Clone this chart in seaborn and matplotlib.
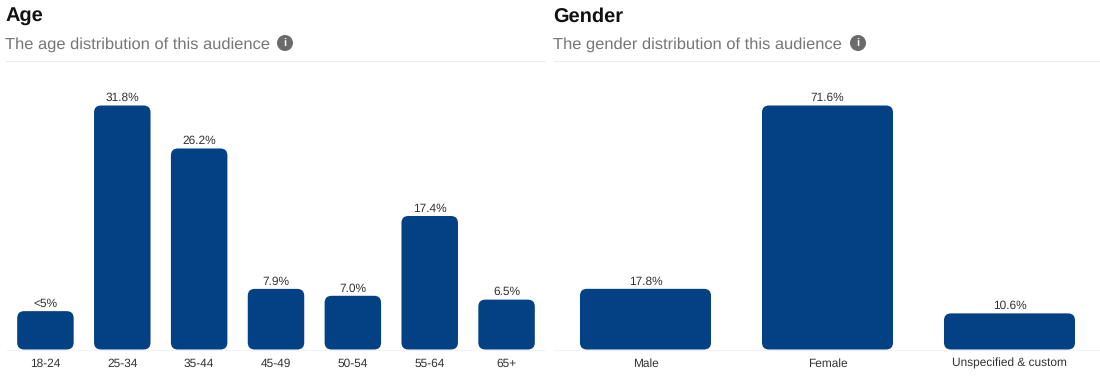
import matplotlib
matplotlib.use("Agg")
import matplotlib.pyplot as plt
import seaborn as sns
from matplotlib.patches import Circle, FancyBboxPatch

AGE_GROUPS = ["18-24", "25-34", "35-44", "45-49", "50-54", "55-64", "65+"]
AGE_VALUES = [5.0, 31.8, 26.2, 7.9, 7.0, 17.4, 6.5]
AGE_LABELS = ["<5%", "31.8%", "26.2%", "7.9%", "7.0%", "17.4%", "6.5%"]

GENDERS = ["Male", "Female", "Unspecified & custom"]
GENDER_VALUES = [17.8, 71.6, 10.6]
GENDER_LABELS = ["17.8%", "71.6%", "10.6%"]

WIDTH = 1100
HEIGHT = 390
BASELINE = 349.5
BAR_TOP = 105.5
AXES_TOP = 85
BAR_COLOR = "#034184"
RULE_COLOR = "#ececec"
RADIUS_PX = 7


def round_bars(ax, px_per_x, px_per_y):
    # seaborn has no rounded bars, so swap each one for a rounded patch of the same size
    for bar in list(ax.patches):
        rounded = FancyBboxPatch(
            (bar.get_x(), bar.get_y()),
            bar.get_width(),
            bar.get_height(),
            boxstyle=f"round,pad=0,rounding_size={RADIUS_PX / px_per_x}",
            mutation_aspect=px_per_x / px_per_y,
            facecolor=BAR_COLOR,
            edgecolor="none",
            zorder=3,
        )
        ax.add_patch(rounded)
        bar.set_visible(False)


def draw_panel(fig, left, right, categories, values, labels, bar_width):
    ax = fig.add_axes([
        left / WIDTH,
        1 - BASELINE / HEIGHT,
        (right - left) / WIDTH,
        (BASELINE - AXES_TOP) / HEIGHT,
    ])
    sns.barplot(x=categories, y=values, color=BAR_COLOR, saturation=1, width=bar_width, ax=ax)

    px_per_y = (BASELINE - BAR_TOP) / max(values)
    px_per_x = (right - left) / len(categories)
    ax.set_ylim(0, (BASELINE - AXES_TOP) / px_per_y)
    ax.set_xlim(-0.5, len(categories) - 0.5)

    ax.bar_label(ax.containers[0], labels=labels, padding=1.3, fontsize=8.6, color="#333333")
    round_bars(ax, px_per_x, px_per_y)

    ax.set_xlabel("")
    ax.set_ylabel("")
    ax.set_yticks([])
    ax.tick_params(axis="x", length=0, pad=6, labelsize=8.6, labelcolor="#333333")
    sns.despine(ax=ax, left=True)
    ax.spines["bottom"].set_color("#f3f3f3")
    ax.spines["bottom"].set_linewidth(0.8)
    ax.patch.set_alpha(0)
    return ax


def draw_header(overlay, x, x_end, title, subtitle, icon_x):
    overlay.text(x, 17, title, fontsize=14.4, fontweight="bold", color="#111111", va="center")
    overlay.text(x, 45, subtitle, fontsize=11.87, color="#767676", va="center")
    overlay.plot([x, x_end], [61, 61], color=RULE_COLOR, linewidth=0.8, solid_capstyle="butt")
    overlay.add_patch(Circle((icon_x, 43), 8, facecolor="#6b6b6b", edgecolor="none"))
    overlay.text(icon_x, 43, "i", fontsize=8, fontweight="bold", color="white", ha="center", va="center")


def main():
    sns.set_theme(style="white")
    plt.rcParams["font.family"] = ["Liberation Sans", "DejaVu Sans"]
    plt.rcParams["text.hinting"] = "none"

    fig = plt.figure(figsize=(WIDTH / 100, HEIGHT / 100), dpi=100)

    overlay = fig.add_axes([0, 0, 1, 1])
    overlay.set_xlim(0, WIDTH)
    overlay.set_ylim(HEIGHT, 0)
    overlay.axis("off")

    draw_header(overlay, 5, 545, "Age", "The age distribution of this audience", 285)
    draw_header(overlay, 553, 1100, "Gender", "The gender distribution of this audience", 858)

    draw_panel(fig, 7, 545, AGE_GROUPS, AGE_VALUES, AGE_LABELS, 0.735)
    draw_panel(fig, 554.5, 1100.5, GENDERS, GENDER_VALUES, GENDER_LABELS, 0.72)

    fig.savefig("out.png", dpi=100)


if __name__ == "__main__":
    main()
